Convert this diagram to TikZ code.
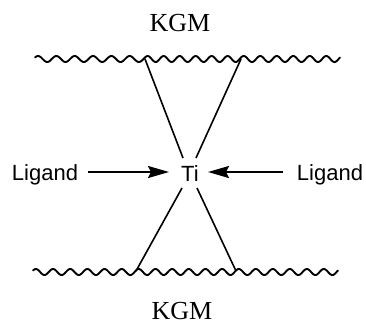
\documentclass[tikz,border=0pt]{standalone}
\usepackage{fontspec}
\setmainfont{Liberation Serif}
\setsansfont{Liberation Sans}
\usetikzlibrary{arrows.meta}
\begin{document}
\begin{tikzpicture}[x=1pt,y=-1pt,
  wavy/.style={line width=1.9pt,line cap=round},
  bond/.style={line width=1.6pt},
  arr/.style={line width=2.2pt,-{Stealth[length=21pt,width=12pt,inset=3pt]}},
  serlabel/.style={font=\fontsize{26}{30}\selectfont,inner sep=0pt,anchor=base},
  sanslabel/.style={font=\sffamily\fontsize{22}{26}\selectfont,inner sep=0pt,anchor=base}]
\useasboundingbox (0,0) rectangle (366,325);
% labels
\node[serlabel] (kgmtop) at (180,31) {KGM};
\node[serlabel] (kgmbot) at (182,319) {KGM};
\node[sanslabel] (ti) at (190,181) {Ti};
\node[sanslabel] (ligl) at (45,180) {Ligand};
\node[sanslabel] (ligr) at (330,180) {Ligand};
% wavy chains
\draw[wavy] plot[domain=35:145,samples=150] (\x,{59-3*sin((\x-35)/18.33*360+30)});
\draw[wavy] plot[domain=145:241,samples=150] (\x,{59-3*sin((\x-145)/16*360+30)});
\draw[wavy] plot[domain=241:340,samples=150] (\x,{59-3*sin((\x-241)/16.5*360+30)});
\draw[wavy] plot[domain=33:136,samples=150] (\x,{272-3*sin((\x-33)/17.17*360+30)});
\draw[wavy] plot[domain=136:236,samples=150] (\x,{272-3*sin((\x-136)/16.67*360+30)});
\draw[wavy] plot[domain=236:338,samples=150] (\x,{272-3*sin((\x-236)/17*360+30)});
% junctions and bond ends
\coordinate (j1) at (145,59);
\coordinate (j2) at (241,59);
\coordinate (j3) at (136,271);
\coordinate (j4) at (236,271);
\coordinate (e1) at (183,158);
\coordinate (e2) at (196,158);
\coordinate (e3) at (182,188);
\coordinate (e4) at (197,188);
\draw[bond] (j1) -- (e1);
\draw[bond] (j2) -- (e2);
\draw[bond] (j3) -- (e3);
\draw[bond] (j4) -- (e4);
% arrows
\coordinate (al) at (88,172);
\coordinate (atl) at (169,172);
\coordinate (ar) at (283,172);
\coordinate (atr) at (208,172);
\draw[arr] (al) -- (atl);
\draw[arr] (ar) -- (atr);
\end{tikzpicture}
\end{document}
